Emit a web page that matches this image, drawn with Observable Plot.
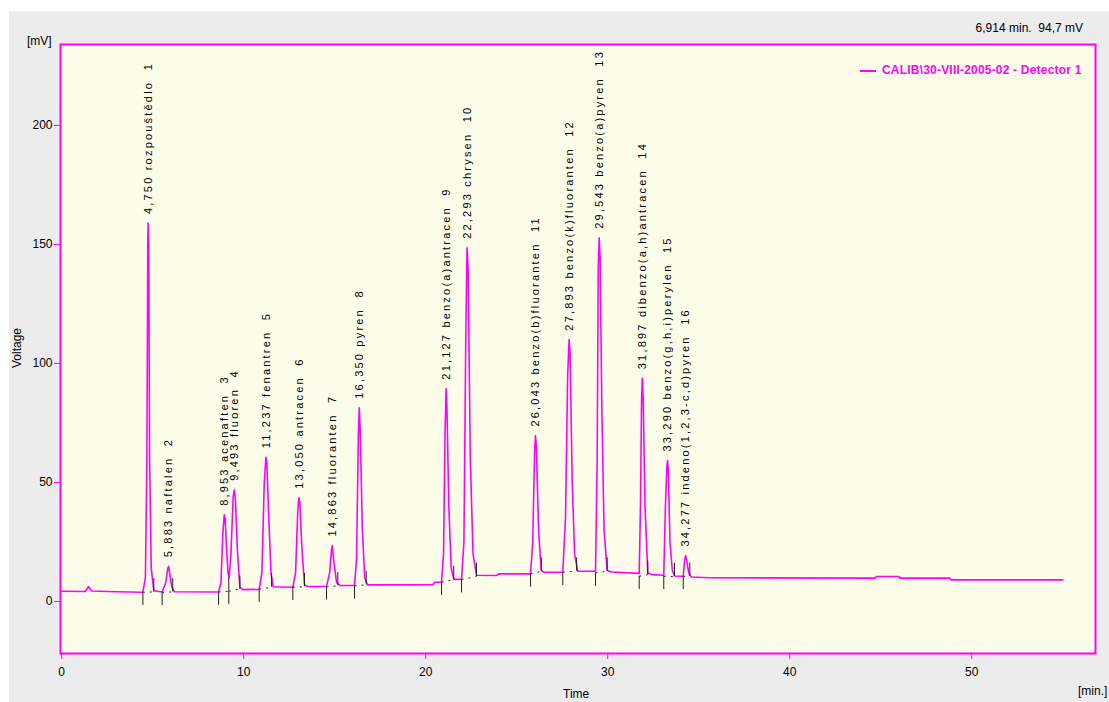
<!DOCTYPE html>
<html><head><meta charset="utf-8">
<script src="https://cdn.jsdelivr.net/npm/d3@7"></script>
<script src="https://cdn.jsdelivr.net/npm/@observablehq/plot@0.6"></script>
<style>
body{margin:0;background:#fff;font-family:"Liberation Sans",Arial,sans-serif;}
#wrap{position:relative;width:1109px;height:702px;overflow:hidden;background:#fff;}
#panel{position:absolute;left:9px;top:11px;width:1100px;height:691px;background:#ECECEC;}
#chart{position:absolute;left:0;top:0;}
.lbl{position:absolute;font-size:12px;color:#000;white-space:pre;line-height:12px;}
</style></head><body>
<div id="wrap">
<div id="panel"></div>
<div id="chart"></div>
<div class="lbl" style="left:27px;top:35px">[mV]</div>
<div class="lbl" style="left:17px;top:348px;transform:translate(-50%,-50%) rotate(-90deg)">Voltage</div>
<div class="lbl" style="right:26px;top:22px">6,914 min.  94,7 mV</div>
<div class="lbl" style="left:860px;top:64px;color:#FF00FF;font-weight:bold;letter-spacing:0.2px"><span style="display:inline-block;width:16px;height:2px;background:#FF00FF;vertical-align:middle;margin-right:6px"></span>CALIB\30-VIII-2005-02 - Detector 1</div>
<div class="lbl" style="left:563px;top:688px">Time</div>
<div class="lbl" style="left:1078px;top:685px">[min.]</div>
</div>
<script>
// Chromatogram trace: time [min], signal [mV]
const traceTime = [0,1.3,1.47,1.65,3.0,4.46,4.6,4.68,4.73,4.75,4.78,4.83,4.92,5.06,5.52,5.72,5.83,5.88,5.95,6.05,6.2,8.62,8.75,8.85,8.93,8.98,9.06,9.14,9.2,9.3,9.42,9.49,9.55,9.65,9.79,9.95,10.85,11.0,11.13,11.22,11.27,11.38,11.5,11.62,12.70,12.85,12.97,13.03,13.08,13.2,13.34,13.5,14.55,14.72,14.83,14.87,14.95,15.1,15.3,16.09,16.2,16.3,16.35,16.4,16.52,16.65,16.8,20.4,20.5,20.87,20.98,21.06,21.12,21.17,21.27,21.4,21.55,21.97,22.1,22.2,22.27,22.33,22.45,22.6,22.79,23.9,24.0,25.76,25.88,25.98,26.03,26.08,26.2,26.35,26.5,27.53,27.68,27.8,27.88,27.93,28.05,28.18,28.35,29.33,29.42,29.48,29.53,29.58,29.68,29.8,29.97,30.2,31.73,31.8,31.86,31.9,31.95,32.05,32.2,32.4,33.08,33.17,33.25,33.29,33.33,33.42,33.55,33.67,34.15,34.22,34.28,34.35,34.45,34.6,35.6,44.7,44.75,46.0,46.05,48.8,48.85,55.0];
const traceMV   = [4.3,4.2,6.2,4.4,4.1,3.9,10,60,150,159,150,60,14,4.5,4.0,8,14,14.8,11,6,4.1,4.0,8,28,36.4,35,22,12,10,20,44,46.9,42,22,6,5.0,5.1,12,50,60.6,58,35,12,6.2,6.0,12,38,43.6,42,22,7,6.3,6.3,12,22,23.5,17,8,6.7,6.7,18,70,81.4,72,30,10,7.0,7.1,8.1,8.1,20,70,89.4,80,40,14,9.3,9.3,25,110,148.6,140,60,20,11,10.9,11.6,11.6,25,62,69.7,65,30,13,12.3,12.3,35,95,110,105,50,20,12.7,12.7,60,140,152.8,145,80,30,13,12.4,11.8,40,85,93.8,85,40,12,11.3,11.0,40,57,59.2,55,25,13,10.7,10.6,17,19.3,17,12,10.3,10.0,9.8,10.5,10.5,9.8,9.8,9.1,9.1];

// Identified peaks
const peakNo   = [1,2,3,4,5,6,7,8,9,10,11,12,13,14,15,16];
const peakRT   = [4.750,5.883,8.953,9.493,11.237,13.050,14.863,16.350,21.127,22.293,26.043,27.893,29.543,31.897,33.290,34.277];
const peakMV   = [159,14.8,36.4,46.9,60.6,43.6,23.5,81.4,89.4,148.6,69.7,110,152.8,93.8,59.2,19.3];
const peakName = ["rozpouštědlo","naftalen","acenaften","fluoren","fenantren","antracen","fluoranten","pyren","benzo(a)antracen","chrysen","benzo(b)fluoranten","benzo(k)fluoranten","benzo(a)pyren","dibenzo(a,h)antracen","benzo(g,h,i)perylen","indeno(1,2,3-c,d)pyren"];

// Integration start / end markers
const startT  = [4.46,5.52,8.62,9.18,10.85,12.70,14.55,16.09,20.87,21.97,25.76,27.53,29.33,31.73,33.08,34.15];
const startMV = [3.9,3.9,4.0,4.3,5.2,6.0,6.2,6.6,8.1,9.2,11.6,12.3,12.0,10.6,10.6,10.6];
const endT    = [5.06,6.10,9.18,9.79,11.53,13.34,15.17,16.73,21.54,22.79,26.35,28.29,29.97,32.20,33.67,34.51];
const endMV   = [4.0,4.0,4.3,5.2,6.0,6.2,6.6,7.0,9.2,10.5,12.7,12.7,12.7,11.3,10.5,10.6];
const tickLen = 5.6;

const xTicks = [0,10,20,30,40,50];
const yTicks = [0,50,100,150,200];

const trace = traceTime.map((t,i)=>({t, v: traceMV[i]}));
const peaks = peakNo.map((n,i)=>({
  rt: peakRT[i], mv: peakMV[i],
  label: peakRT[i].toFixed(3).replace(".", ",") + " " + peakName[i] + "\u00a0\u00a0" + n
}));
const integ = peakNo.map((n,i)=>({s: startT[i], sv: startMV[i], e: endT[i], ev: endMV[i]}));

const MAG = "#FF00FF";
const chart = Plot.plot({
  width: 1109, height: 702,
  marginLeft: 60, marginTop: 44, marginRight: 14, marginBottom: 49,
  style: {background: "transparent", fontFamily: "'Liberation Sans', Arial, sans-serif", fontSize: "12px", color: "#000"},
  x: {domain: [-0.066, 56.8], label: null},
  y: {domain: [-21.85, 234.0], label: null},
  marks: [
    Plot.frame({fill: "#FCFDE9", stroke: MAG, strokeWidth: 2}),
    Plot.link(integ, {x1: "s", y1: "sv", x2: "e", y2: "ev", stroke: "#222", strokeWidth: 1, strokeDasharray: "2,5"}),
    Plot.line(trace, {x: "t", y: "v", stroke: MAG, strokeWidth: 1.6}),
    Plot.ruleX(integ, {x: "s", y1: "sv", y2: d => d.sv - tickLen, stroke: "#222", strokeWidth: 1}),
    Plot.ruleX(integ, {x: "e", y1: "ev", y2: d => d.ev + tickLen, stroke: "#222", strokeWidth: 1}),
    Plot.text(peaks, {x: "rt", y: "mv", text: "label", rotate: -90, textAnchor: "start", dy: -9, fontSize: 11, fill: "#000"}),
    Plot.axisX({ticks: xTicks, tickSize: 6, tickPadding: 8, stroke: MAG, fill: "#000", fontSize: 12, label: null}),
    Plot.axisY({ticks: yTicks, tickSize: 6, tickPadding: 2, stroke: MAG, fill: "#000", fontSize: 12, label: null})
  ]
});
chart.querySelectorAll('g[aria-label="text"] text').forEach(t => t.setAttribute("letter-spacing", "2.2"));
document.getElementById("chart").appendChild(chart);
</script>
</body></html>
